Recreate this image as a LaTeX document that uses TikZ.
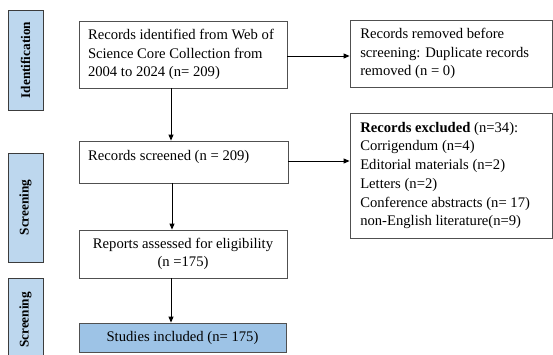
\documentclass[tikz,border=0pt]{standalone}
\usepackage{fontspec}
\setmainfont{Liberation Serif}
\usetikzlibrary{arrows.meta}
\definecolor{sidefill}{RGB}{189,215,238}
\definecolor{incfill}{RGB}{157,195,230}
\definecolor{boxline}{RGB}{80,80,80}
\definecolor{sideline}{RGB}{60,60,60}
\tikzset{
  box/.style={draw=boxline, line width=0.8bp, rectangle, inner sep=0pt,
    font={\fontsize{14.7}{18.3}\selectfont}},
  sidebox/.style={draw=sideline, fill=sidefill, line width=0.9bp, rectangle, inner sep=0pt,
    minimum width=35bp},
  sidetext/.style={rotate=90, font={\fontsize{13.3}{15}\selectfont\bfseries}, inner sep=0pt},
  arr/.style={draw=black, line width=0.9bp, -{Triangle[length=6bp,width=5bp]}},
}
\begin{document}
\begin{tikzpicture}[x=1bp,y=-1bp]
\useasboundingbox (0,0) rectangle (553,354);
% side labels
\node[sidebox, minimum height=100bp] (sI) at (25.5,60) {};
\node[sidetext] (sIt) at (sI.center) {Identification};
\node[sidebox, minimum height=109bp] (sS1) at (25.5,207.5) {};
\node[sidetext] (sS1t) at (sS1.center) {Screening};
\node[sidebox, minimum height=90bp] (sS2) at (25.5,323) {};
\node[sidetext] (sS2t) at (25.5,320) {Screening};
% main boxes
\node[box, minimum width=208bp, minimum height=67bp, text width=190bp, align=flush left] (A) at (183,54.5)
  {\hspace*{0pt}Records identified from Web of\\Science Core Collection from\\2004 to 2024 (n= 209)};
\node[box, minimum width=202.5bp, minimum height=67bp, text width=182bp, align=flush left] (R1) at (451.25,53.5)
  {Records removed before\\screening: Duplicate records\\removed (n = 0)};
\node[box, minimum width=209bp, minimum height=42bp] (B) at (183.5,162) {};
\node[font={\fontsize{14.7}{18.3}\selectfont}, anchor=west, inner sep=0pt] (Bt) at (88,156.5) {Records screened (n = 209)};
\node[box, minimum width=202.5bp, minimum height=125bp, text width=182bp, align=flush left,
  font={\fontsize{14.7}{18.8}\selectfont}] (R2) at (451.25,175.5)
  {\textbf{Records excluded} (n=34):\\Corrigendum (n=4)\\Editorial materials (n=2)\\Letters (n=2)\\Conference abstracts (n= 17)\\non-English literature(n=9)};
\node[box, minimum width=208bp, minimum height=48bp, align=center] (C) at (183,254)
  {Reports assessed for eligibility\\(n =175)};
\node[box, fill=incfill, minimum width=207bp, minimum height=29bp] (D) at (182.5,337.5)
  {Studies included (n= 175)};
% arrows
\draw[arr] ([xshift=-12bp]A.south) -- ([xshift=-12bp]A.south |- B.north);
\draw[arr] ([yshift=-1.5bp]A.east) -- ([yshift=-1.5bp]A.east -| R1.west);
\draw[arr] ([yshift=1bp]B.east) -- ([yshift=1bp]B.east -| R2.west);
\draw[arr] ([xshift=-11.5bp]B.south) -- ([xshift=-11.5bp]B.south |- C.north);
\draw[arr] ([xshift=-12bp]C.south) -- ([xshift=-12bp]C.south |- D.north);
\end{tikzpicture}
\end{document}
